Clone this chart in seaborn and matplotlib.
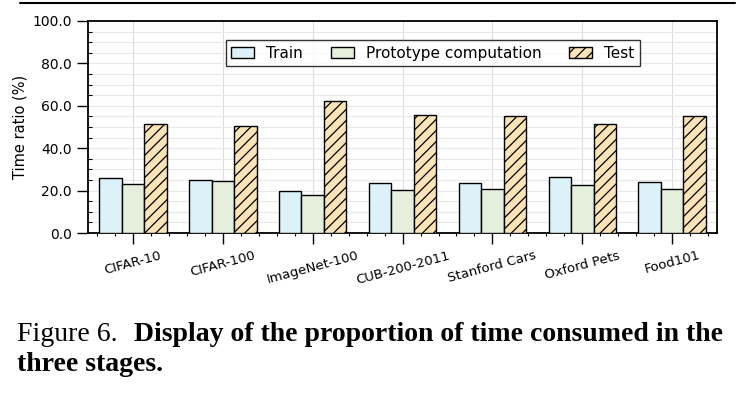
import seaborn as sns
import matplotlib.pyplot as plt
import matplotlib.ticker as mticker
import pandas as pd

datasets = ["CIFAR-10", "CIFAR-100", "ImageNet-100", "CUB-200-2011",
            "Stanford Cars", "Oxford Pets", "Food101"]
stages = ["Train", "Prototype computation", "Test"]
train = [25.8, 25.0, 20.0, 23.7, 23.7, 26.3, 24.1]
proto = [23.1, 24.5, 17.8, 20.4, 20.8, 22.5, 20.6]
test = [51.3, 50.3, 62.1, 55.7, 55.3, 51.4, 55.2]
colors = ["#ddf1f9", "#e4f0dc", "#fde3b8"]

rows = []
for stage, vals in zip(stages, [train, proto, test]):
    for d, v in zip(datasets, vals):
        rows.append({"dataset": d, "stage": stage, "ratio": v})
df = pd.DataFrame(rows)

sns.set_style("white")
plt.rcParams["font.family"] = ["DejaVu Sans"]
plt.rcParams["hatch.linewidth"] = 0.9
plt.rcParams["text.color"] = "black"
plt.rcParams["axes.labelcolor"] = "black"
plt.rcParams["xtick.color"] = "black"
plt.rcParams["ytick.color"] = "black"

fig = plt.figure(figsize=(7.4, 3.95), dpi=100)
ax = fig.add_axes([0.119, 0.41, 0.85, 0.537])

sns.barplot(data=df, x="dataset", y="ratio", hue="stage", hue_order=stages,
            palette=colors, edgecolor="black", linewidth=1.0, width=0.75,
            saturation=1, ax=ax, legend=False, zorder=3)

for bar in ax.containers[2]:
    bar.set_hatch("///")

ax.set_xlim(-0.5, 6.5)
ax.set_ylim(0, 100)
ax.yaxis.set_major_locator(mticker.MultipleLocator(20))
ax.yaxis.set_minor_locator(mticker.MultipleLocator(5))
ax.yaxis.set_major_formatter(mticker.FormatStrFormatter("%.1f"))
ax.xaxis.set_minor_locator(mticker.MultipleLocator(0.2))
ax.tick_params(axis="y", which="major", left=True, direction="out", length=8, width=1, labelsize=10)
ax.tick_params(axis="y", which="minor", left=True, direction="in", length=3, width=0.8)
ax.tick_params(axis="x", which="major", bottom=True, direction="out", length=8, width=1, labelsize=9.5)
ax.tick_params(axis="x", which="minor", bottom=True, direction="out", length=2.5, width=0.8)
for lab in ax.get_xticklabels():
    lab.set_rotation(15)

ax.grid(axis="x", which="major", color="#dddddd", lw=0.8, zorder=0)
ax.grid(axis="y", which="both", color="#e8e8e8", lw=0.8, zorder=0)
ax.set_axisbelow(True)

for s in ax.spines.values():
    s.set_visible(True)
    s.set_color("black")
    s.set_linewidth(1.3)

ax.set_xlabel("")
ax.set_ylabel("Time ratio (%)", fontsize=10.5)

handles = [ax.containers[i][0] for i in range(3)]
leg = ax.legend(handles, stages, loc="upper center", ncol=3, fontsize=11,
                frameon=True, fancybox=False, edgecolor="black",
                bbox_to_anchor=(0.548, 0.945), handlelength=1.5, columnspacing=1.8,
                borderpad=0.35)
leg.get_frame().set_linewidth(1.0)

# page rule and caption
fig.add_artist(plt.Line2D([0.027, 0.993], [0.992, 0.992], color="black", lw=1.5))
fig.text(0.023, 0.137, "Figure 6.", fontsize=20, family="Liberation Serif", va="baseline")
fig.text(0.977, 0.137, "Display of the proportion of time consumed in the",
         fontsize=20, family="Liberation Serif", weight="bold", ha="right", va="baseline")
fig.text(0.023, 0.0615, "three stages.", fontsize=20, family="Liberation Serif",
         weight="bold", va="baseline")

fig.savefig("out.png", dpi=100)
